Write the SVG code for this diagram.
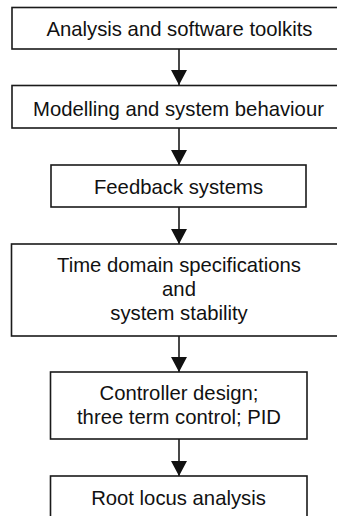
<svg xmlns="http://www.w3.org/2000/svg" width="337" height="516" viewBox="0 0 337 516">
<defs>
<style>
.box{fill:#fff;stroke:#1a1a1a;stroke-width:1.6}
.t{font-family:"Liberation Sans",Arial,sans-serif;font-size:20.3px;fill:#111;text-anchor:middle}
.c{stroke:#1a1a1a;stroke-width:1.6;fill:none}
</style>
<marker id="ah" markerUnits="userSpaceOnUse" markerWidth="16" markerHeight="16" refX="15" refY="8" orient="auto" viewBox="0 0 16 16">
<path d="M0,0 L15,8 L0,16 Z" fill="#111"/>
</marker>
</defs>
<g id="connectors">
<line class="c" x1="179" y1="49" x2="179" y2="85" marker-end="url(#ah)"/>
<line class="c" x1="179" y1="128" x2="179" y2="165" marker-end="url(#ah)"/>
<line class="c" x1="179" y1="207" x2="179" y2="244" marker-end="url(#ah)"/>
<line class="c" x1="179" y1="336" x2="179" y2="372" marker-end="url(#ah)"/>
<line class="c" x1="179" y1="439" x2="179" y2="476" marker-end="url(#ah)"/>
</g>
<g id="n1">
<rect class="box" x="12" y="7.5" width="334" height="41.5"/>
<text class="t" x="179.5" y="36">Analysis and software toolkits</text>
</g>
<g id="n2">
<rect class="box" x="12" y="85.5" width="334" height="42.5"/>
<text class="t" x="178.5" y="115.5">Modelling and system behaviour</text>
</g>
<g id="n3">
<rect class="box" x="51" y="165" width="255" height="42"/>
<text class="t" x="178.5" y="194">Feedback systems</text>
</g>
<g id="n4">
<rect class="box" x="11.5" y="244" width="334" height="92"/>
<text class="t" x="179" y="272">Time domain specifications</text>
<text class="t" x="179" y="296">and</text>
<text class="t" x="179" y="320">system stability</text>
</g>
<g id="n5">
<rect class="box" x="50.5" y="372" width="256.5" height="67"/>
<text class="t" x="179" y="400">Controller design;</text>
<text class="t" x="179" y="424">three term control; PID</text>
</g>
<g id="n6">
<rect class="box" x="50.5" y="476" width="256.5" height="50"/>
<text class="t" x="178.5" y="505">Root locus analysis</text>
</g>
</svg>
